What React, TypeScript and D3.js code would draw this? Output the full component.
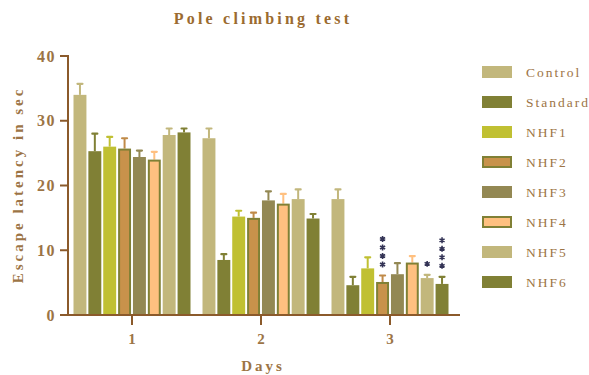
import React from 'react'
import * as d3 from 'd3'

const days = ['1', '2', '3']
const groups = ['Control', 'Standard', 'NHF1', 'NHF2', 'NHF3', 'NHF4', 'NHF5', 'NHF6']
// mean escape latency per group, one array per day
const day1 = [34.0, 25.3, 26.0, 25.7, 24.4, 24.0, 27.8, 28.2]
const day2 = [27.3, 8.5, 15.2, 15.0, 17.7, 17.2, 17.9, 14.9]
const day3 = [17.9, 4.6, 7.2, 5.1, 6.3, 8.1, 5.7, 4.8]
// upper end of the error bars
const err1 = [35.7, 28.0, 27.5, 27.3, 25.4, 25.2, 28.8, 28.8]
const err2 = [28.8, 9.4, 16.1, 15.8, 19.1, 18.7, 19.4, 15.6]
const err3 = [19.4, 5.9, 8.9, 6.1, 8.0, 9.1, 6.2, 5.9]
// significance stars on day 3
const stars3 = [0, 0, 0, 4, 0, 0, 1, 4]
const yTicks = [0, 10, 20, 30, 40]

const fills = ['#c2b77c', '#808035', '#c0c032', '#c8924b', '#938853', '#ffc080', '#c2b77c', '#808035']
const strokes = [null, null, null, '#808035', null, '#808035', null, null]
const errColors = ['#c2b77c', '#808035', '#c0c032', '#c08a48', '#938853', '#ffc080', '#c2b77c', '#808035']

const axisColor = '#8b5a2b'
const textColor = '#9c7445'
const serif = '"Liberation Serif", "Times New Roman", serif'

export default function App() {
  const width = 589
  const height = 375

  const values = [day1, day2, day3]
  const errs = [err1, err2, err3]
  const stars = [null, null, stars3]

  const y = d3.scaleLinear().domain([0, 40]).range([315, 56])
  const x0 = d3.scaleBand().domain(days).range([67.5, 454.5]).padding(0)
  const x1 = d3.scaleBand().domain(groups).range([6, x0.bandwidth() - 6]).paddingInner(0.13)

  const star = d3.symbol().type(d3.symbolAsterisk).size(24)

  return (
    <svg width={width} height={height} style={{ position: 'absolute', left: 0, top: 0 }}>
      <rect width={width} height={height} fill="#fff" />
      <text x={263} y={24} textAnchor="middle" fontFamily={serif} fontWeight="bold" fontSize={16}
        letterSpacing={3.2} fill="#9b6b30">Pole climbing test</text>

      {days.map((d, di) => (
        <g key={d} transform={`translate(${x0(d)},0)`}>
          {groups.map((g, gi) => {
            const v = values[di][gi]
            const e = errs[di][gi]
            const bx = x1(g)!
            const bw = x1.bandwidth()
            const cx = bx + bw / 2
            const s = strokes[gi]
            const n = stars[di] ? stars[di]![gi] : 0
            return (
              <g key={g}>
                <line x1={cx} x2={cx} y1={y(v)} y2={y(e)} stroke={errColors[gi]} strokeWidth={2} />
                <line x1={cx - 2.5} x2={cx + 2.5} y1={y(e)} y2={y(e)} stroke={errColors[gi]} strokeWidth={2.2} strokeLinecap="round" />
                {s ? (
                  <rect x={bx + 1} y={y(v) + 1} width={bw - 2} height={y(0) - y(v) - 1} fill={fills[gi]} stroke={s} strokeWidth={2} />
                ) : (
                  <rect x={bx} y={y(v)} width={bw} height={y(0) - y(v)} fill={fills[gi]} />
                )}
                {d3.range(n).map(k => (
                  <path key={k} d={star()!} transform={`translate(${cx},${y(e) - 11 - k * 8.5})`}
                    fill="none" stroke="#333355" strokeWidth={1.6} />
                ))}
              </g>
            )
          })}
        </g>
      ))}

      {/* y axis */}
      <line x1={68} x2={68} y1={55} y2={316} stroke={axisColor} strokeWidth={2} />
      {yTicks.map(t => (
        <g key={t}>
          <line x1={60} x2={68} y1={y(t)} y2={y(t)} stroke={axisColor} strokeWidth={2} />
          <text x={56} y={y(t) + 5.5} textAnchor="end" fontFamily={serif} fontWeight="bold" fontSize={16}
            letterSpacing={1.5} fill={textColor}>{t}</text>
        </g>
      ))}
      <text transform="translate(23,185) rotate(-90)" textAnchor="middle" fontFamily={serif} fontWeight="bold"
        fontSize={15} letterSpacing={3} fill={textColor}>Escape latency in sec</text>

      {/* x axis */}
      <line x1={60} x2={460} y1={315} y2={315} stroke={axisColor} strokeWidth={2} />
      {days.map(d => {
        const cx = x0(d)! + x0.bandwidth() / 2
        return (
          <g key={d}>
            <line x1={cx} x2={cx} y1={315} y2={325} stroke={axisColor} strokeWidth={2} />
            <text x={cx} y={344} textAnchor="middle" fontFamily={serif} fontWeight="bold" fontSize={15}
              fill={textColor}>{d}</text>
          </g>
        )
      })}
      <text x={263} y={371} textAnchor="middle" fontFamily={serif} fontWeight="bold" fontSize={15}
        letterSpacing={3} fill={textColor}>Days</text>

      {/* legend */}
      {groups.map((g, gi) => {
        const ly = 72 + gi * 30
        const s = strokes[gi]
        return (
          <g key={g}>
            {s ? (
              <rect x={483} y={ly - 5} width={28} height={10} fill={fills[gi]} stroke={s} strokeWidth={2} />
            ) : (
              <rect x={482} y={ly - 6} width={30} height={12} fill={fills[gi]} />
            )}
            <text x={526} y={ly + 5} fontFamily={serif} fontSize={13.5} letterSpacing={2} fill={textColor}>{g}</text>
          </g>
        )
      })}
    </svg>
  )
}
